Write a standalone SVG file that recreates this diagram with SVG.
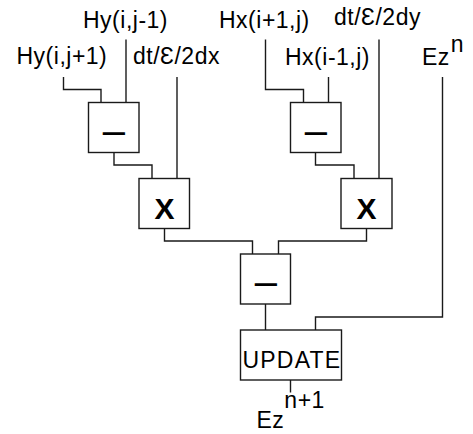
<svg xmlns="http://www.w3.org/2000/svg" width="473" height="434" viewBox="0 0 473 434">
<style>
.box{fill:#fff;stroke:#1a1a1a;stroke-width:1.4}
.wire{fill:none;stroke:#1a1a1a;stroke-width:1.4}
.lbl{font-family:"Liberation Sans",Arial,Helvetica,sans-serif;font-size:23px;letter-spacing:0.5px;fill:#000}
.minus{font-family:"Liberation Sans",Arial,Helvetica,sans-serif;font-size:40px;text-anchor:middle;fill:#000}
.times{font-family:"Liberation Sans",Arial,Helvetica,sans-serif;font-size:30px;font-weight:bold;text-anchor:middle;fill:#000}
</style>
<rect width="473" height="434" fill="#fff"/>
<g id="connectors">
<path class="wire" d="M63.5 77 V89.5 H101 V102.5"/>
<path class="wire" d="M126 39.5 V102.5"/>
<path class="wire" d="M177 77 V178.5"/>
<path class="wire" d="M114 152.5 V165 H152 V178.5"/>
<path class="wire" d="M265.5 39.5 V89.5 H303.5 V102.5"/>
<path class="wire" d="M328.5 77 V102.5"/>
<path class="wire" d="M379 39.5 V178.5"/>
<path class="wire" d="M315.5 152.5 V165 H354 V178.5"/>
<path class="wire" d="M164.5 228.5 V241 H252.5 V254"/>
<path class="wire" d="M366.5 228.5 V241 H278.5 V254"/>
<path class="wire" d="M265.5 304 V330"/>
<path class="wire" d="M442.5 77 V317 H315.5 V330"/>
<path class="wire" d="M290.5 380 V392.5"/>
</g>
<g id="labels">
<text class="lbl" x="83" y="27.5">Hy(i,j-1)</text>
<text class="lbl" x="219" y="28">Hx(i+1,j)</text>
<text class="lbl" x="334" y="25">dt/Ɛ/2dy</text>
<text class="lbl" x="16.5" y="64">Hy(i,j+1)</text>
<text class="lbl" x="133" y="64">dt/Ɛ/2dx</text>
<text class="lbl" x="285" y="65">Hx(i-1,j)</text>
<text class="lbl" x="422" y="65">Ez<tspan dx="1" dy="-13.5">n</tspan></text>
<text class="lbl" x="256.5" y="428">Ez<tspan dy="-20">n+1</tspan></text>
</g>
<g id="sub-left">
<rect class="box" x="88.5" y="102.5" width="50.5" height="50"/>
<text class="minus" x="113.8" y="143.8">–</text>
</g>
<g id="sub-right">
<rect class="box" x="290.5" y="102.5" width="50.5" height="50"/>
<text class="minus" x="315.8" y="143.8">–</text>
</g>
<g id="mul-left">
<rect class="box" x="139" y="178.5" width="50.5" height="50"/>
<text class="times" x="164.5" y="219">X</text>
</g>
<g id="mul-right">
<rect class="box" x="341" y="178.5" width="51" height="50"/>
<text class="times" x="366.5" y="219">X</text>
</g>
<g id="sub-bottom">
<rect class="box" x="240.5" y="254" width="50" height="50"/>
<text class="minus" x="265.8" y="295">–</text>
</g>
<g id="update">
<rect class="box" x="240.5" y="330" width="101" height="50"/>
<text class="lbl" x="242.5" y="367.5" style="letter-spacing:1.2px">UPDATE</text>
</g>
</svg>
